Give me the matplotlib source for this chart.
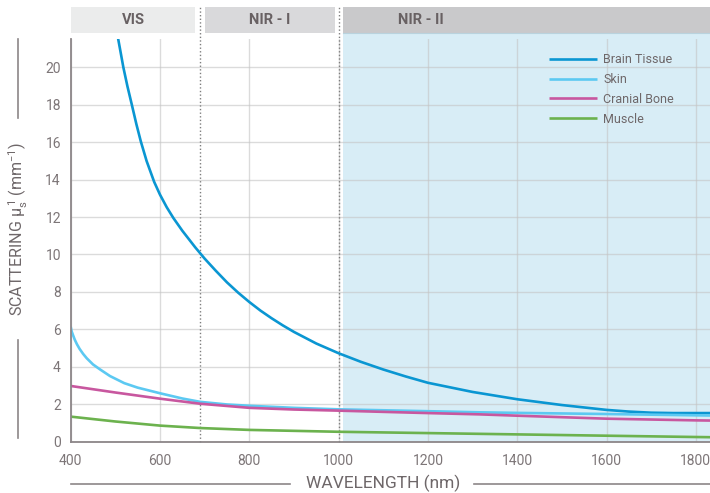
import matplotlib
matplotlib.use("Agg")
import matplotlib.pyplot as plt
from matplotlib.patches import Rectangle
from matplotlib.lines import Line2D

# ---- data ----
brain_wl = [505, 510, 518, 527, 537, 547, 557, 570, 587, 600, 615, 630, 650, 679, 700,
            725, 750, 775, 800, 825, 850, 875, 900, 950, 1000, 1050, 1100, 1150, 1200,
            1300, 1400, 1500, 1600, 1650, 1700, 1750, 1800, 1832]
brain_val = [21.7, 21.05, 20.0, 19.0, 18.0, 16.98, 16.05, 15.0, 13.88, 13.2, 12.53, 11.95,
             11.27, 10.38, 9.78, 9.13, 8.51, 7.96, 7.46, 7.0, 6.59, 6.21, 5.86, 5.24, 4.72,
             4.26, 3.85, 3.48, 3.14, 2.65, 2.26, 1.95, 1.69, 1.6, 1.54, 1.52, 1.52, 1.52]

skin_wl = [400, 402, 405, 409, 414, 420, 428, 436, 450, 466, 488, 520, 550, 600, 650, 690,
           750, 800, 900, 1000, 1200, 1317, 1400, 1600, 1800, 1832]
skin_val = [6.14, 5.9, 5.7, 5.45, 5.2, 4.95, 4.68, 4.45, 4.12, 3.85, 3.5, 3.12, 2.88, 2.58,
            2.3, 2.12, 1.98, 1.91, 1.8, 1.72, 1.62, 1.56, 1.53, 1.47, 1.40, 1.39]

bone_wl = [400, 500, 600, 690, 800, 900, 1000, 1200, 1317, 1400, 1600, 1800, 1832]
bone_val = [2.97, 2.62, 2.29, 2.02, 1.80, 1.71, 1.65, 1.52, 1.45, 1.38, 1.22, 1.13, 1.12]

muscle_wl = [400, 500, 600, 690, 800, 1000, 1200, 1400, 1600, 1800, 1832]
muscle_val = [1.33, 1.07, 0.85, 0.72, 0.62, 0.52, 0.45, 0.38, 0.31, 0.24, 0.23]

series_names = ["Brain Tissue", "Skin", "Cranial Bone", "Muscle"]
series_colors = ["#0a96d2", "#5cc9f2", "#c8579f", "#6cb24e"]

x_ticks = [400, 600, 800, 1000, 1200, 1400, 1600, 1800]
y_ticks = [0, 2, 4, 6, 8, 10, 12, 14, 16, 18, 20]

bands = ["VIS", "NIR - I", "NIR - II"]
band_edges_wl = [690, 1000]

TXT = "#6e6769"
TICK = "#7d7678"
W, H = 710, 493

plt.rcParams['font.family'] = ['Roboto', 'DejaVu Sans']

fig = plt.figure(figsize=(W / 100, H / 100), dpi=100)

def fx(px):
    return px / W

def fy(py):
    return 1 - py / H

ax_left, ax_right, ax_top, ax_bottom = 70.7, 710, 39, 441.5
ax = fig.add_axes([fx(ax_left), fy(ax_bottom), fx(ax_right - ax_left), (ax_bottom - ax_top) / H])

xmin = 400
xmax = 400 + (ax_right - ax_left) / 89.3 * 200
ymax = (ax_bottom - ax_top) / 18.7
ax.set_xlim(xmin, xmax)
ax.set_ylim(0, ymax)

# NIR-II shaded region (extends up to the header)
shade_top = (ax_bottom - 32.7) / (ax_bottom - ax_top)
ax.axvspan(1010, xmax, ymin=0, ymax=shade_top, color="#d8edf6", zorder=0, clip_on=False, lw=0)

# grid
ax.set_xticks(x_ticks)
ax.set_yticks(y_ticks)
ax.grid(True, color="#c4c4c4", alpha=0.6, lw=1.0, zorder=1)
ax.set_axisbelow(True)

# dotted band separators
dot_top = (ax_bottom - 7) / (ax_bottom - ax_top)
for wl in band_edges_wl:
    ax.axvline(wl, ymin=0, ymax=dot_top, color="#7e7e7e", lw=1.0, ls=(0, (1, 1.6)),
               clip_on=False, zorder=2)

# curves
for wl, val, name, col in zip([brain_wl, skin_wl, bone_wl, muscle_wl],
                              [brain_val, skin_val, bone_val, muscle_val],
                              series_names, series_colors):
    ax.plot(wl, val, color=col, lw=1.9, label=name, zorder=3,
            solid_capstyle='butt', solid_joinstyle='round')

# spines / ticks
for s in ["top", "right"]:
    ax.spines[s].set_visible(False)
for s in ["left", "bottom"]:
    ax.spines[s].set_color("#8c8688")
    ax.spines[s].set_linewidth(1.3)
    ax.spines[s].set_zorder(4)
ax.tick_params(axis="both", length=0, colors=TICK, labelsize=10)
ax.tick_params(axis="y", pad=7)
ax.tick_params(axis="x", pad=9)

# header bands
band_px = [(71, 195, "#ebecec"), (205, 335, "#d9d9db"), (343, 710, "#c9c9cb")]
band_cx = [133, 270, 421]
for (x0, x1, c), name, cx in zip(band_px, bands, band_cx):
    fig.add_artist(Rectangle((fx(x0), fy(32.7)), fx(x1 - x0), (32.7 - 6.7) / H,
                             transform=fig.transFigure, facecolor=c, edgecolor="none", zorder=0))
    fig.text(fx(cx), fy(20), name, ha="center", va="center", fontsize=10.5,
             fontweight="bold", color="#686163")
fig.add_artist(Line2D([fx(343), fx(710)], [fy(32.7), fy(32.7)], transform=fig.transFigure,
                      color="#b9d3de", lw=0.8))

# y label with decorative lines
fig.text(fx(18), fy(229), r"SCATTERING $\mathregular{\mu_s^{\,1}}$ (mm$\mathregular{^{-1}}$)",
         rotation=90, ha="center", va="center", fontsize=11.5, color=TXT)
fig.add_artist(Line2D([fx(18), fx(18)], [fy(39), fy(118)], transform=fig.transFigure,
                      color="#8c8688", lw=1.2))
fig.add_artist(Line2D([fx(18), fx(18)], [fy(340), fy(438)], transform=fig.transFigure,
                      color="#8c8688", lw=1.2))

# x label with decorative lines
fig.text(fx(383), fy(483), "WAVELENGTH (nm)", ha="center", va="center", fontsize=12.5,
         color=TXT)
fig.add_artist(Line2D([fx(71), fx(290)], [fy(484), fy(484)], transform=fig.transFigure,
                      color="#8c8688", lw=1.2))
fig.add_artist(Line2D([fx(474), fx(710)], [fy(484), fy(484)], transform=fig.transFigure,
                      color="#8c8688", lw=1.2))

# legend
leg = ax.legend(loc="upper left", bbox_to_anchor=(fx(549), fy(53)),
                bbox_transform=fig.transFigure, frameon=False, fontsize=9,
                handlelength=3.8, handletextpad=0.55, labelspacing=0.55,
                borderpad=0, borderaxespad=0)
for t in leg.get_texts():
    t.set_color(TXT)

fig.savefig("out.png", dpi=100)
